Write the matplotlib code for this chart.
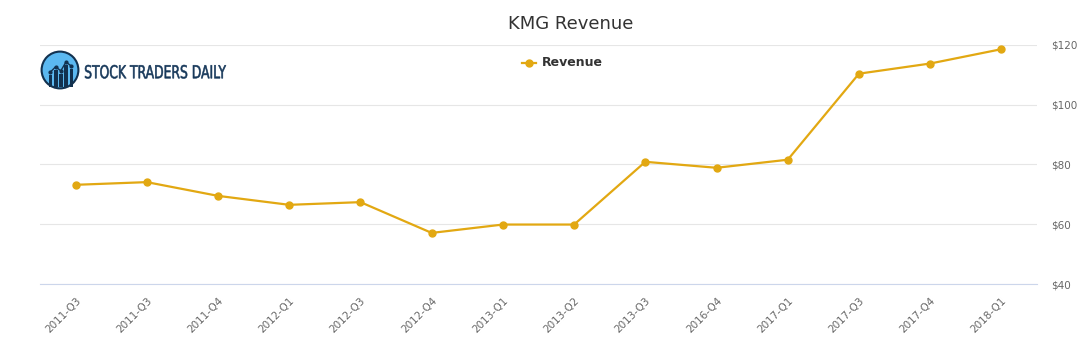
import matplotlib.pyplot as plt
from matplotlib.patches import Circle, Rectangle, PathPatch
from matplotlib.textpath import TextPath
from matplotlib.font_manager import FontProperties
from matplotlib.transforms import Affine2D, IdentityTransform
import numpy as np

quarters = ["2011-Q3", "2011-Q3", "2011-Q4", "2012-Q1", "2012-Q3", "2012-Q4", "2013-Q1",
            "2013-Q2", "2013-Q3", "2016-Q4", "2017-Q1", "2017-Q3", "2017-Q4", "2018-Q1"]
revenue = [73.2, 74.1, 69.5, 66.5, 67.4, 57.1, 59.9, 59.9, 80.9, 78.9, 81.6, 110.4, 113.8, 118.6]
y_ticks = [40, 60, 80, 100, 120]

line_color = "#e2a812"
W, H = 1091, 350

fig = plt.figure(figsize=(W / 100, H / 100), dpi=100)
ax = fig.add_axes([40 / W, 1 - 284 / H, 997 / W, 239 / H])

x = np.arange(len(quarters))
ax.plot(x, revenue, color=line_color, lw=1.6, marker="o", ms=5, zorder=3)

ax.set_xlim(-0.5, len(quarters) - 0.5)
ax.set_ylim(40, 120)
ax.set_yticks(y_ticks)
ax.set_yticklabels([f"${v}" for v in y_ticks])
ax.yaxis.tick_right()
ax.tick_params(axis="y", length=0, pad=10, labelsize=7.5, labelcolor="#666666")
ax.set_xticks(x)
ax.set_xticklabels(quarters, rotation=45, ha="right", rotation_mode="anchor")
ax.tick_params(axis="x", length=0, pad=8, labelsize=7.5, labelcolor="#666666")
ax.grid(axis="y", color="#e6e6e6", lw=0.8)
ax.set_axisbelow(True)
for side in ["top", "left", "right"]:
    ax.spines[side].set_visible(False)
ax.spines["bottom"].set_color("#ccd6eb")

fig.text(0.523, 1 - 24 / H, "KMG Revenue", ha="center", va="center", fontsize=13, color="#333333")

# legend: short line with a dot in the middle
ly = 1 - 63 / H
fig.add_artist(plt.Line2D([522 / W, 536 / W], [ly, ly], transform=fig.transFigure,
                          color=line_color, lw=1.6))
fig.add_artist(plt.Line2D([529 / W], [ly], transform=fig.transFigure,
                          color=line_color, marker="o", ms=5))
fig.text(542 / W, ly, "Revenue", ha="left", va="center", fontsize=9,
         fontweight="bold", color="#333333")

# logo badge
logo = fig.add_axes([40 / W, 1 - 90 / H, 40 / W, 40 / H])
logo.set_xlim(0, 1)
logo.set_ylim(0, 1)
logo.set_aspect("equal")
logo.axis("off")
logo.add_patch(Circle((0.5, 0.5), 0.46, fc="#5bb8f0", ec="#12314f", lw=1.5))
for bx, bh in zip([0.22, 0.35, 0.48, 0.61, 0.74], [0.3, 0.42, 0.33, 0.55, 0.45]):
    logo.add_patch(Rectangle((bx, 0.08), 0.09, bh, fc="#12314f", ec="none"))
logo.plot([0.26, 0.39, 0.52, 0.65, 0.78], [0.45, 0.58, 0.48, 0.7, 0.6], color="#12314f", lw=1,
          marker="o", ms=2)

# condensed logo wordmark, squeezed to fit in pixels
tp = TextPath((0, 0), "STOCK TRADERS DAILY", size=20, prop=FontProperties(family="DejaVu Sans"))
ext = tp.get_extents()
sx = 141 / ext.width
sy = 13.5 / ext.height
tr = Affine2D().translate(-ext.x0, -ext.y0).scale(sx, sy).translate(85, H - 78.5)
fig.add_artist(PathPatch(tp, transform=tr + IdentityTransform(), fc="#17385a", ec="#17385a", lw=0.4))

fig.savefig("out.png", dpi=100, facecolor="white")
